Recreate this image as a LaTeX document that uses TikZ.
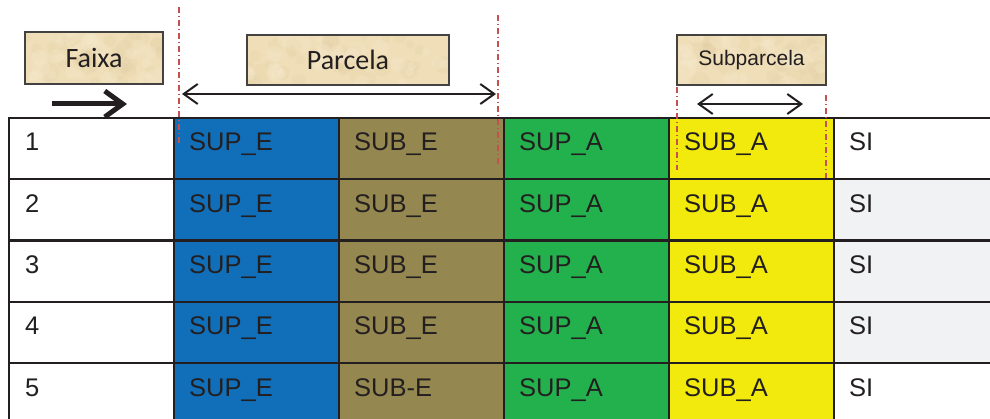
\documentclass[tikz,border=0pt]{standalone}
\usepackage{fontspec}
\setmainfont{Liberation Sans}
\newfontfamily\calib{Carlito}
\usetikzlibrary{arrows.meta}
\definecolor{supe}{HTML}{116FB9}
\definecolor{sube}{HTML}{94874F}
\definecolor{supa}{HTML}{23B14D}
\definecolor{suba}{HTML}{F3EA0D}
\definecolor{sigray}{HTML}{F1F2F4}
\definecolor{ink}{HTML}{231F20}
\definecolor{parch}{HTML}{EFDEB8}
\definecolor{parchdark}{HTML}{DCC79C}
\definecolor{parchlight}{HTML}{F8EDD2}
\definecolor{cutline}{HTML}{C4504F}
\begin{document}
\begin{tikzpicture}[x=1pt,y=-1pt,
  cell/.style={draw=ink,line width=2.2,inner sep=0,outer sep=0,
    minimum width=165,minimum height=61.25,anchor=north west},
  lbl/.style={text=ink,inner sep=0,anchor=base west,font=\fontsize{25.5}{30}\selectfont},
  tag/.style={draw=ink!85,line width=1.6,fill=none,inner sep=0,text=ink},
  cut/.style={draw=cutline,line width=1.1,dash pattern=on 6pt off 3pt on 1pt off 3pt},
  barb/.tip={Straight Barb[length=14,width=20]}]
\useasboundingbox (0,0) rectangle (990,419);
\clip (0,0) rectangle (990,419);

% table body: one row per stratum
\foreach \r/\se/\si in {1/SUB\_E/white,2/SUB\_E/sigray,3/SUB\_E/sigray,4/SUB\_E/sigray,5/SUB-E/white}{
  \pgfmathsetmacro{\top}{118+61.25*(\r-1)}
  \node[cell,fill=white] (n\r) at (9,\top) {};
  \node[cell,fill=supe] (pe\r) at (174,\top) {};
  \node[cell,fill=sube] (se\r) at (339,\top) {};
  \node[cell,fill=supa] (pa\r) at (504,\top) {};
  \node[cell,fill=suba] (sa\r) at (669,\top) {};
  \node[cell,fill=\si,minimum width=180] (si\r) at (834,\top) {};
  \node[lbl] (tn\r) at (25,\top+33) {\r};
  \node[lbl] (tpe\r) at (189,\top+33) {SUP\_E};
  \node[lbl] (tse\r) at (354,\top+33) {\se};
  \node[lbl] (tpa\r) at (519,\top+33) {SUP\_A};
  \node[lbl] (tsa\r) at (684,\top+33) {SUB\_A};
  \node[lbl] (tsi\r) at (849,\top+33) {SI};
}

% headings on a parchment-like ground
\newcommand{\parchbox}[4]{% centre x, centre y, width, height
  \begin{scope}
    \clip (#1-#3/2,#2-#4/2) rectangle (#1+#3/2,#2+#4/2);
    \fill[parch] (#1-#3/2,#2-#4/2) rectangle (#1+#3/2,#2+#4/2);
    \pgfmathsetseed{#1}
    \foreach \k in {1,...,35}{
      \pgfmathsetmacro{\px}{#1+rand*#3/2}
      \pgfmathsetmacro{\py}{#2+rand*#4/2}
      \pgfmathsetmacro{\pr}{4+6*rnd}
      \fill[parchdark,opacity=0.15] (\px,\py) circle[radius=\pr];
    }
    \foreach \k in {1,...,25}{
      \pgfmathsetmacro{\px}{#1+rand*#3/2}
      \pgfmathsetmacro{\py}{#2+rand*#4/2}
      \pgfmathsetmacro{\pr}{4+6*rnd}
      \fill[parchlight,opacity=0.25] (\px,\py) circle[radius=\pr];
    }
  \end{scope}}
\parchbox{94}{58}{138}{52}
\parchbox{348}{60}{202}{50}
\parchbox{751.5}{60}{149}{50}
\node[tag,minimum width=138,minimum height=52] (faixa) at (94,58)
  {\calib\fontsize{28}{32}\selectfont Faixa};
\node[tag,minimum width=202,minimum height=50] (parcela) at (348,60)
  {\calib\fontsize{28}{32}\selectfont Parcela};
\node[tag,minimum width=149,minimum height=50] (subparcela) at (751.5,60)
  {\fontsize{21}{25}\selectfont Subparcela};

% direction and extent arrows
\coordinate (fa0) at (52,104);
\coordinate (fa1) at (127,104);
\draw[ink,line width=5,-{Straight Barb[length=18,width=26]}] (fa0) -- (fa1);
\coordinate (pa0) at (182,94);
\coordinate (pa1) at (496,94);
\draw[ink,line width=2,barb-barb] (pa0) -- (pa1);
\coordinate (sp0) at (697,104);
\coordinate (sp1) at (803,104);
\draw[ink,line width=2,barb-barb] (sp0) -- (sp1);

% plot boundaries
\coordinate (c1a) at (179,7);   \coordinate (c1b) at (179,146);
\coordinate (c2a) at (498,15);  \coordinate (c2b) at (498,165);
\coordinate (c3a) at (677,87);  \coordinate (c3b) at (677,170);
\coordinate (c4a) at (826,95);  \coordinate (c4b) at (826,178);
\draw[cut] (c1a) -- (c1b);
\draw[cut] (c2a) -- (c2b);
\draw[cut] (c3a) -- (c3b);
\draw[cut] (c4a) -- (c4b);
\end{tikzpicture}
\end{document}
